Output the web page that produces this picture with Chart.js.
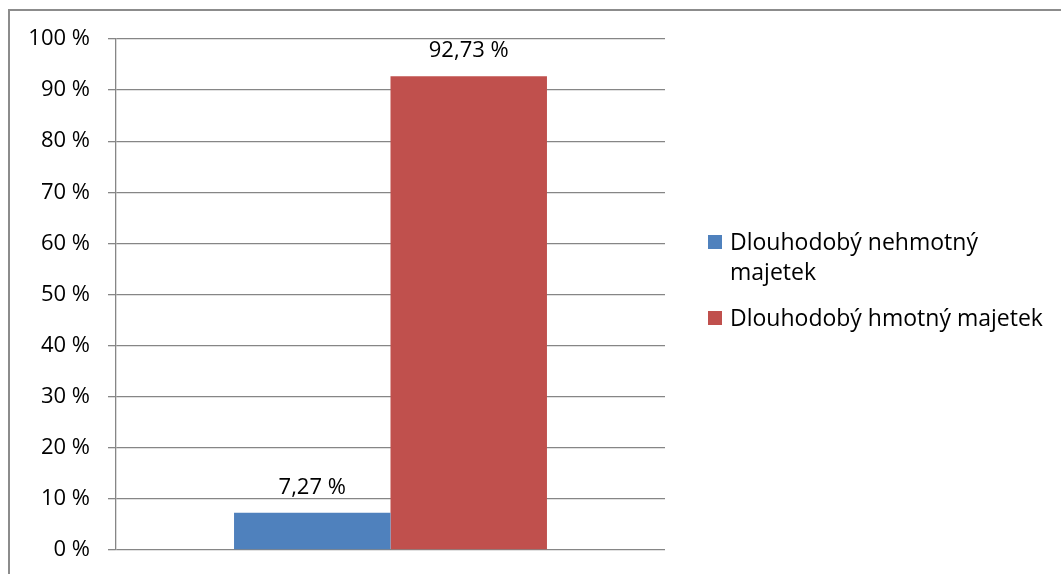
<!doctype html>
<html lang="cs">
<head>
  <meta charset="UTF-8" />
  <script src="https://cdn.jsdelivr.net/npm/chart.js@4"></script>
  <style>
    html, body { margin: 0; padding: 0; background: #fff; }
    #wrap { position: relative; width: 1061px; height: 574px; overflow: hidden; }
    .frame { position: absolute; left: 8px; top: 9px; right: -10px; bottom: -10px;
      border-top: 2px solid #8c8c8c; border-left: 2px solid #8c8c8c; }
    canvas { position: absolute; left: 0; top: 0; }
    .legend { position: absolute; left: 708px; top: 226px; font-family: "Open Sans", sans-serif;
      font-size: 23px; color: #000; line-height: 30px; }
    .legend .item { position: relative; padding-left: 22px; margin-bottom: 16px; white-space: nowrap; }
    .legend .sw { position: absolute; left: 0; top: 9px; width: 14px; height: 14px; }
  </style>
</head>
<body>
  <div id="wrap">
    <div class="frame"></div>
    <canvas id="barChart" width="1061" height="574"></canvas>
    <div class="legend">
      <div class="item"><span class="sw" style="background:#4f81bd"></span>Dlouhodobý nehmotný<br>majetek</div>
      <div class="item"><span class="sw" style="background:#c0504d"></span>Dlouhodobý hmotný majetek</div>
    </div>
  </div>
  <script>
    // data
    const categories = [''];
    const seriesNames = ['Dlouhodobý nehmotný majetek', 'Dlouhodobý hmotný majetek'];
    const nehmotny = [7.27];
    const hmotny = [92.73];
    const yTicks = [0, 10, 20, 30, 40, 50, 60, 70, 80, 90, 100];

    const fmt = v => v.toFixed(2).replace('.', ',') + ' %';

    // value labels above bars
    const valueLabels = {
      id: 'valueLabels',
      afterDatasetsDraw(chart) {
        const ctx = chart.ctx;
        ctx.save();
        ctx.font = '22px "Open Sans", sans-serif';
        ctx.fillStyle = '#000';
        ctx.textAlign = 'center';
        ctx.textBaseline = 'alphabetic';
        chart.data.datasets.forEach((ds, i) => {
          chart.getDatasetMeta(i).data.forEach((bar, j) => {
            ctx.fillText(fmt(ds.data[j]), bar.x, bar.y - 19);
          });
        });
        ctx.restore();
      }
    };

    new Chart(document.getElementById('barChart'), {
      type: 'bar',
      plugins: [valueLabels],
      data: {
        labels: categories,
        datasets: [
          { label: seriesNames[0], data: nehmotny, backgroundColor: '#4f81bd' },
          { label: seriesNames[1], data: hmotny, backgroundColor: '#c0504d' }
        ]
      },
      options: {
        responsive: false,
        animation: false,
        layout: { padding: { left: 0, right: 396, top: 39, bottom: 24 } },
        plugins: { legend: { display: false }, tooltip: { enabled: false } },
        datasets: { bar: { categoryPercentage: 0.57, barPercentage: 1 } },
        scales: {
          x: { display: false },
          y: {
            min: 0,
            max: 100,
            afterFit: s => { s.width = 116; s.paddingTop = 0; s.paddingBottom = 0; },
            afterBuildTicks: s => { s.ticks = yTicks.map(v => ({ value: v })); },
            grid: { color: '#868686', lineWidth: 1.3, tickLength: 8, drawTicks: true },
            border: { color: '#868686', width: 1.3 },
            ticks: {
              padding: 18,
              color: '#000',
              font: { family: 'Open Sans', size: 22 },
              callback: v => v + ' %'
            }
          }
        }
      }
    });
  </script>
</body>
</html>
